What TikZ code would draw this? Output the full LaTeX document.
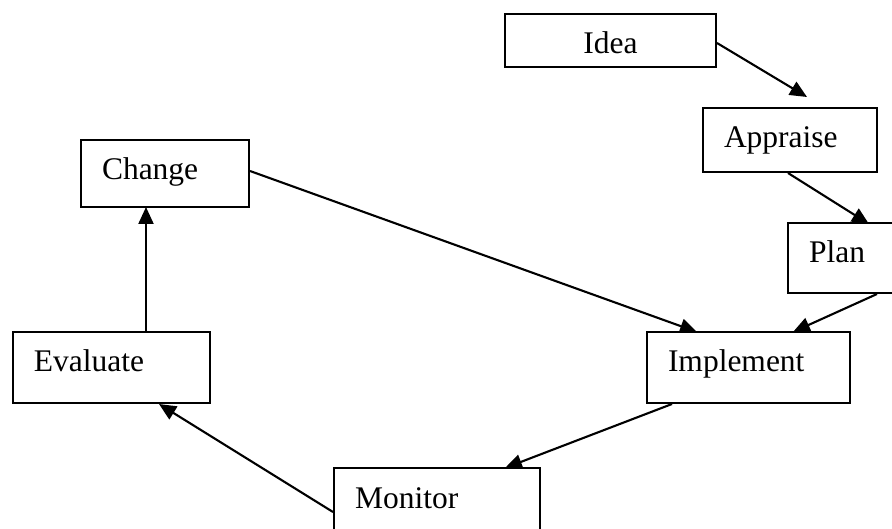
\documentclass[tikz,border=0pt]{standalone}
\usepackage{fontspec}
\setmainfont{Liberation Serif}
\usetikzlibrary{arrows.meta,calc}
\pgfdeclarelayer{back}
\pgfdeclarelayer{bg}
\pgfsetlayers{back,bg,main}
\begin{document}
\begin{tikzpicture}[x=1pt,y=-1pt,
  box/.style={draw=black, line width=2pt, fill=white, rectangle, anchor=north west,
    inner ysep=0pt, inner xsep=21pt, text height=40pt, align=left,
    font=\fontsize{31.5}{37}\selectfont},
  arr/.style={draw=black, line width=2.1pt, -{Triangle[length=17pt,width=15pt]}}]
\begin{pgfonlayer}{back}
\fill[white] (0,0) rectangle (892,529);
\end{pgfonlayer}
\useasboundingbox (0,0) rectangle (892,529);
\clip (0,0) rectangle (892,529);
\node[box, inner xsep=0pt, align=center, text width=211pt, text depth=13pt] (idea) at (504,13) {Idea};
\node[box, text width=132pt, text depth=24pt] (appr) at (702,107) {Appraise};
\node[box, text width=126pt, text depth=27pt] (change) at (80,139) {Change};
\node[box, text width=71pt, text depth=30pt] (plan) at (787,222) {Plan};
\node[box, text width=161pt, text depth=31pt] (impl) at (646,331) {Implement};
\node[box, text width=155pt, text depth=31pt] (eval) at (12,331) {Evaluate};
\node[box, text width=164pt, text depth=31pt] (mon) at (333,467) {Monitor};
\begin{pgfonlayer}{bg}
\draw[arr] ($(idea.north east)+(0,30)$) -- ($(appr.north west)+(105,-10)$);
\draw[arr] ($(appr.south west)+(86,0)$) -- ($(plan.north west)+(82,2)$);
\draw[arr] ($(plan.south west)+(90,0)$) -- ($(impl.north west)+(147,1)$);
\draw[arr] ($(change.north east)+(0,32)$) -- ($(impl.north west)+(51,1)$);
\draw[arr] ($(impl.south west)+(26,0)$) -- ($(mon.north west)+(172,1)$);
\draw[arr] ($(mon.north west)+(0,45)$) -- ($(eval.south west)+(147,0)$);
\draw[arr] ($(eval.north west)+(134,0)$) -- ($(change.south west)+(66,-1)$);
\end{pgfonlayer}
\end{tikzpicture}
\end{document}
